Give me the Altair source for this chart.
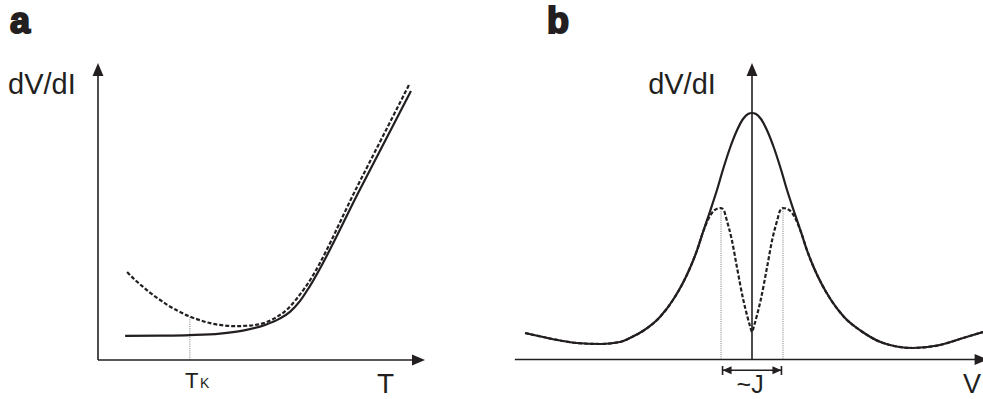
import altair as alt
import pandas as pd

INK = "#231f20"
FONT = "Liberation Sans"

# ---------------- panel a: dV/dI versus temperature ----------------
a_solid_T = [0.83, 1.90, 2.81, 3.73, 4.43, 5.11, 5.57, 5.87, 6.18, 6.48, 8.01, 9.57]
a_solid_R = [0.81, 0.82, 0.84, 0.89, 0.99, 1.18, 1.40, 1.62, 1.99, 2.49, 5.74, 9.06]
a_dash_T = [0.89, 1.13, 1.38, 1.62, 1.90, 2.14, 2.42, 2.81, 3.12, 3.43, 3.73, 4.19,
            4.65, 5.11, 5.47, 5.78, 6.09, 6.39, 7.95, 9.51]
a_dash_R = [2.96, 2.70, 2.46, 2.24, 2.02, 1.84, 1.67, 1.46, 1.34, 1.24, 1.18, 1.14,
            1.16, 1.26, 1.45, 1.70, 2.08, 2.53, 5.89, 9.26]
a_TK = 2.81          # Kondo temperature marker
a_TK_R = 1.46        # dashed curve value at T_K
a_axis_max = 10.0

# ---------------- panel b: dV/dI versus bias voltage ----------------
b_solid_V = [-7.32, -6.74, -6.19, -5.65, -4.90, -4.26, -3.94, -3.52, -2.97, -2.55, -2.23,
             -2.00, -1.77, -1.58, -1.35, -1.13, -0.94, -0.71, -0.48, -0.29, -0.13, 0.00,
             0.13, 0.29, 0.48, 0.71, 0.94, 1.13, 1.35, 1.58, 1.77, 2.00, 2.23, 2.55,
             2.97, 3.52, 4.23, 5.19, 6.06, 6.81, 7.45]
b_solid_G = [2.65, 2.25, 1.90, 1.65, 1.55, 1.75, 2.15, 2.85, 4.25, 5.95, 7.65,
             9.15, 10.95, 12.75, 14.85, 16.95, 18.95, 21.15, 22.95, 24.05, 24.55, 24.65,
             24.55, 24.05, 22.95, 21.15, 18.95, 16.95, 14.85, 12.75, 10.95, 9.15, 7.65, 5.95,
             4.25, 2.85, 1.65, 1.15, 1.45, 2.15, 2.75]
# split peak of the dashed curve (it follows the solid one in the tails)
b_split_V = [-1.40, -1.20, -1.00, -0.90, -0.82, -0.65, -0.49, -0.28, -0.15, -0.06, 0.00,
             0.06, 0.15, 0.28, 0.49, 0.65, 0.82, 0.90, 1.00, 1.20, 1.40]
b_split_G = [14.10, 14.95, 15.15, 14.85, 14.00, 11.95, 9.30, 5.95, 4.30, 3.30, 2.75,
             3.30, 4.30, 5.95, 9.30, 11.95, 14.00, 14.85, 15.15, 14.95, 14.10]
b_J = 1.0            # half splitting marked by the dotted lines
b_J_peak = 15.15
b_J_arrow = 0.95
b_x_min, b_x_max = -7.65, 7.60
b_y_max = 29.65

# scales placing each panel on the page
xa = alt.Scale(domain=[0, 10], range=[98, 425], nice=False, zero=False)
ya = alt.Scale(domain=[0, 10], range=[360, 63], nice=False, zero=False)
xb = alt.Scale(domain=[-8, 8], range=[504, 1000], nice=False, zero=False)
yb = alt.Scale(domain=[0, 30], range=[359.5, 59.5], nice=False, zero=False)

ARROW = "M0,0L-0.42,1L0.42,1Z"
SMALL_ARROW = "M0,0L-0.45,1L0.45,1Z"


def enc(xs, ys):
    return dict(x=alt.X("x:Q", scale=xs, axis=None),
                y=alt.Y("y:Q", scale=ys, axis=None))


def curve(xv, yv, xs, ys, **mark):
    df = pd.DataFrame({"x": xv, "y": yv})
    return alt.Chart(df).mark_line(interpolate="monotone", color=INK, **mark).encode(**enc(xs, ys))


def segment(x0, y0, x1, y1, xs, ys, color=INK, **mark):
    df = pd.DataFrame({"x": [x0], "y": [y0], "x2": [x1], "y2": [y1]})
    return alt.Chart(df).mark_rule(color=color, **mark).encode(
        x2="x2:Q", y2="y2:Q", **enc(xs, ys))


def head(xv, yv, xs, ys, angle, shape=ARROW, size=676):
    df = pd.DataFrame({"x": [xv], "y": [yv]})
    return alt.Chart(df).mark_point(shape=shape, size=size, filled=True, color=INK,
                                    opacity=1, strokeWidth=0, angle=angle).encode(**enc(xs, ys))


def label(txt, xv, yv, xs, ys, size, align="left", weight="normal", **mark):
    df = pd.DataFrame({"x": [xv], "y": [yv], "t": [txt]})
    return alt.Chart(df).mark_text(align=align, baseline="alphabetic", font=FONT,
                                   fontSize=size, fontWeight=weight, color=INK, **mark).encode(
        text="t:N", **enc(xs, ys))


dotted = dict(strokeWidth=0.8, strokeDash=[1, 1.2], color="#555555")
dashed = dict(strokeWidth=2.2, strokeDash=[4, 2])

# dashed curve of panel b: solid tails plus the split peak
b_dash_V = ([v for v in b_solid_V if v < -1.5] + b_split_V
            + [v for v in b_solid_V if v > 1.5])
b_dash_G = ([g for v, g in zip(b_solid_V, b_solid_G) if v < -1.5] + b_split_G
            + [g for v, g in zip(b_solid_V, b_solid_G) if v > 1.5])

layers = [
    # panel a
    segment(a_TK, 0, a_TK, a_TK_R, xa, ya, **dotted),
    segment(0, 0, a_axis_max - 0.3, 0, xa, ya, strokeWidth=1.6),
    segment(0, 0, 0, a_axis_max - 0.3, xa, ya, strokeWidth=1.6),
    head(0, a_axis_max, xa, ya, 0),
    head(a_axis_max, 0, xa, ya, 90),
    curve(a_solid_T, a_solid_R, xa, ya, strokeWidth=2.2),
    curve(a_dash_T, a_dash_R, xa, ya, **dashed),
    label("a", -2.69, 11.01, xa, ya, 36, weight=900, stroke=INK, strokeWidth=2),
    label("dV/dI", -2.75, 8.96, xa, ya, 29),
    label("T", 8.53, -1.11, xa, ya, 28),
    label("T", 2.66, -0.94, xa, ya, 22),
    label("K", 3.12, -0.94, xa, ya, 14),
    # panel b
    segment(-b_J, 0, -b_J, b_J_peak, xb, yb, **dotted),
    segment(b_J, 0, b_J, b_J_peak, xb, yb, **dotted),
    segment(b_x_min, 0, b_x_max - 0.3, 0, xb, yb, strokeWidth=1.6),
    segment(0, 0, 0, b_y_max - 1.0, xb, yb, strokeWidth=1.6),
    head(0, b_y_max, xb, yb, 0),
    head(b_x_max, 0, xb, yb, 90),
    curve(b_solid_V, b_solid_G, xb, yb, strokeWidth=2.2),
    curve(b_dash_V, b_dash_G, xb, yb, **dashed),
    segment(-b_J_arrow, -1.08, b_J_arrow, -1.08, xb, yb, strokeWidth=1.6),
    segment(-b_J_arrow, -0.65, -b_J_arrow, -1.55, xb, yb, strokeWidth=1.6),
    segment(b_J_arrow, -0.65, b_J_arrow, -1.55, xb, yb, strokeWidth=1.6),
    head(-b_J_arrow, -1.08, xb, yb, 270, shape=SMALL_ARROW, size=324),
    head(b_J_arrow, -1.08, xb, yb, 90, shape=SMALL_ARROW, size=324),
    label("b", -6.61, 32.65, xb, yb, 36, weight=900, stroke=INK, strokeWidth=2),
    label("dV/dI", -3.35, 26.55, xb, yb, 29),
    label("~J", -0.06, -3.35, xb, yb, 25, align="center"),
    label("V", 6.81, -3.35, xb, yb, 27),
]

chart = alt.layer(*layers).resolve_scale(x="independent", y="independent").properties(
    width=983, height=399, padding=0, background="white",
    autosize=alt.AutoSizeParams(type="none"),
).configure_view(stroke=None)

chart.save("out.html", embed_options={"renderer": "svg", "actions": False})
